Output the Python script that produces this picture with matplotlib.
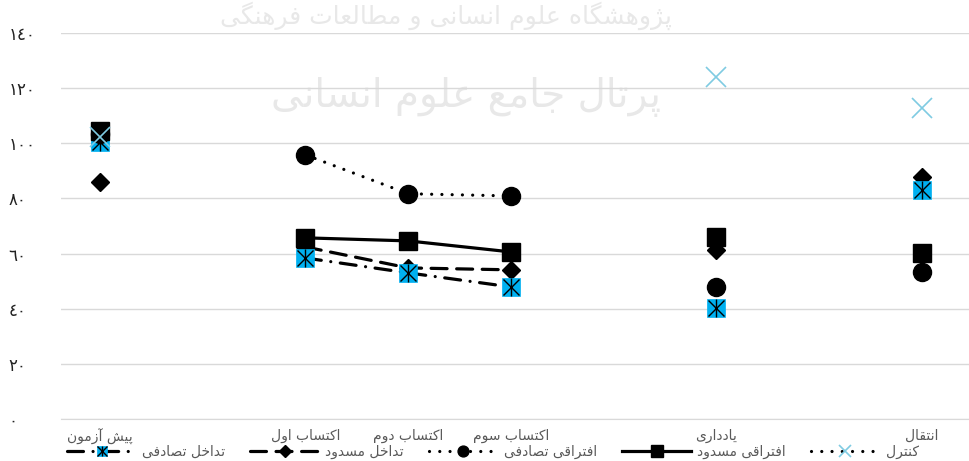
import numpy as np
import matplotlib
matplotlib.use('Agg')
import matplotlib.pyplot as plt

plt.rcParams['font.family'] = ['DejaVu Sans']

# presentation forms: isolated, final, initial, medial
FORMS = {
    'ا': ('\uFE8D', '\uFE8E', None, None),
    'آ': ('\uFE81', '\uFE82', None, None),
    'ب': ('\uFE8F', '\uFE90', '\uFE91', '\uFE92'),
    'پ': ('\uFB56', '\uFB57', '\uFB58', '\uFB59'),
    'ت': ('\uFE95', '\uFE96', '\uFE97', '\uFE98'),
    'ج': ('\uFE9D', '\uFE9E', '\uFE9F', '\uFEA0'),
    'خ': ('\uFEA5', '\uFEA6', '\uFEA7', '\uFEA8'),
    'د': ('\uFEA9', '\uFEAA', None, None),
    'ر': ('\uFEAD', '\uFEAE', None, None),
    'ز': ('\uFEAF', '\uFEB0', None, None),
    'ژ': ('\uFB8A', '\uFB8B', None, None),
    'س': ('\uFEB1', '\uFEB2', '\uFEB3', '\uFEB4'),
    'ش': ('\uFEB5', '\uFEB6', '\uFEB7', '\uFEB8'),
    'ص': ('\uFEB9', '\uFEBA', '\uFEBB', '\uFEBC'),
    'ط': ('\uFEC1', '\uFEC2', '\uFEC3', '\uFEC4'),
    'ع': ('\uFEC9', '\uFECA', '\uFECB', '\uFECC'),
    'ف': ('\uFED1', '\uFED2', '\uFED3', '\uFED4'),
    'ق': ('\uFED5', '\uFED6', '\uFED7', '\uFED8'),
    'ک': ('\uFB8E', '\uFB8F', '\uFB90', '\uFB91'),
    'گ': ('\uFB92', '\uFB93', '\uFB94', '\uFB95'),
    'ل': ('\uFEDD', '\uFEDE', '\uFEDF', '\uFEE0'),
    'م': ('\uFEE1', '\uFEE2', '\uFEE3', '\uFEE4'),
    'ن': ('\uFEE5', '\uFEE6', '\uFEE7', '\uFEE8'),
    'ه': ('\uFEE9', '\uFEEA', '\uFEEB', '\uFEEC'),
    'و': ('\uFEED', '\uFEEE', None, None),
    'ی': ('\uFBFC', '\uFBFD', '\uFBFE', '\uFBFF'),
}


def fa(s):
    out = []
    for i, c in enumerate(s):
        if c not in FORMS:
            out.append(c)
            continue
        prev = s[i - 1] if i > 0 else ''
        nxt = s[i + 1] if i + 1 < len(s) else ''
        jp = prev in FORMS and FORMS[prev][2] is not None
        jn = FORMS[c][2] is not None and nxt in FORMS
        if jp and jn:
            out.append(FORMS[c][3])
        elif jp:
            out.append(FORMS[c][1])
        elif jn:
            out.append(FORMS[c][2])
        else:
            out.append(FORMS[c][0])
    return ''.join(out)[::-1]


nan = np.nan
# category slots (empty ones are gaps in the sheet)
categories = ['پیش آزمون', '', 'اکتساب اول', 'اکتساب دوم', 'اکتساب سوم', '', 'یادداری', '', 'انتقال']
interf_random = [100.5, nan, 58.4, 53.0, 47.9, nan, 40.3, nan, 83.1]
interf_blocked = [86.0, nan, 62.4, 54.8, 54.1, nan, 61.3, nan, 87.8]
diff_random = [103.5, nan, 95.8, 81.7, 80.9, nan, 47.9, nan, 53.4]
diff_blocked = [104.5, nan, 65.7, 64.6, 60.6, nan, 66.0, nan, 60.3]
control = [102.3, nan, nan, nan, nan, nan, 124.1, nan, 112.9]
series_names = ['تداخل تصادفی', 'تداخل مسدود', 'افتراقی تصادفی', 'افتراقی مسدود', 'کنترل']
yticks = [0, 20, 40, 60, 80, 100, 120, 140]
ytick_labels = ['٠', '٢٠', '٤٠', '٦٠', '٨٠', '١٠٠', '١٢٠', '١٤٠']

x = np.arange(len(categories))

fig = plt.figure(figsize=(9.7, 4.61), dpi=100)
ax = fig.add_axes([61 / 970, 1 - 419 / 461, 909 / 970, (419 - 33) / 461])
ax.patch.set_alpha(0)

# faint watermark
fig.text(0.48, 0.79, fa('پرتال جامع علوم انسانی'), fontsize=28, color='#e8e8e8',
         ha='center', va='center', zorder=-5)
fig.text(0.46, 0.965, fa('پژوهشگاه علوم انسانی و مطالعات فرهنگی'), fontsize=18, color='#e8e8e8',
         ha='center', va='center', zorder=-5)

LW = 2.3
blue = '#00B0F0'

l2, = ax.plot(x, interf_blocked, color='black', lw=LW, ls=(0, (5, 3)), dash_capstyle='round',
              marker='D', ms=9.5, mfc='black', mec='black', zorder=3)
l1, = ax.plot(x, interf_random, color='black', lw=LW, ls=(0, (5, 3, 0.01, 3)), dash_capstyle='round',
              marker='s', ms=13, mfc=blue, mec=blue, mew=0.5, zorder=4)
a1, = ax.plot(x, interf_random, ls='none', marker='x', ms=12, mec='black', mew=1, zorder=4.1)
a2, = ax.plot(x, interf_random, ls='none', marker='|', ms=13, mec='black', mew=1, zorder=4.1)
l3, = ax.plot(x, diff_random, color='black', lw=LW, ls=(0, (0.01, 3.2)), dash_capstyle='round',
              marker='o', ms=13, mfc='black', mec='black', zorder=5)
l4, = ax.plot(x, diff_blocked, color='black', lw=LW, ls='-',
              marker='s', ms=13.5, mfc='black', mec='black', zorder=6)
l5, = ax.plot(x, control, color='black', lw=LW, ls=(0, (0.01, 3.2)), dash_capstyle='round',
              marker='x', ms=14, mec='#7FCBE2', mew=1.2, zorder=7)

ax.set_xlim(-0.38, 8.47)
ax.set_ylim(0, 140)
ax.set_yticks(yticks)
ax.set_yticklabels(ytick_labels)
for t in ax.get_yticklabels():
    t.set_horizontalalignment('left')
ax.tick_params(axis='y', length=0, pad=38, labelsize=12, labelcolor='#222222')

shown = [i for i, c in enumerate(categories) if c]
ax.set_xticks(shown)
ax.set_xticklabels([fa(categories[i]) for i in shown])
ax.tick_params(axis='x', length=0, pad=7, labelsize=10, labelcolor='#595959')

ax.grid(axis='y', color='#d9d9d9', lw=1)
ax.set_axisbelow(True)
for s in ['top', 'right', 'left']:
    ax.spines[s].set_visible(False)
ax.spines['bottom'].set_color('#d9d9d9')

handles = [(l1, a1, a2), l2, l3, l4, l5]
fig.legend(handles, [fa(n) for n in series_names], loc='center', bbox_to_anchor=(0.508, 1 - 452 / 461),
           ncol=5, frameon=False, fontsize=10, labelcolor='#595959', handlelength=5.0,
           columnspacing=1.8, markerscale=0.6, handletextpad=0.4, borderpad=0)

fig.savefig('out.png', dpi=100)
